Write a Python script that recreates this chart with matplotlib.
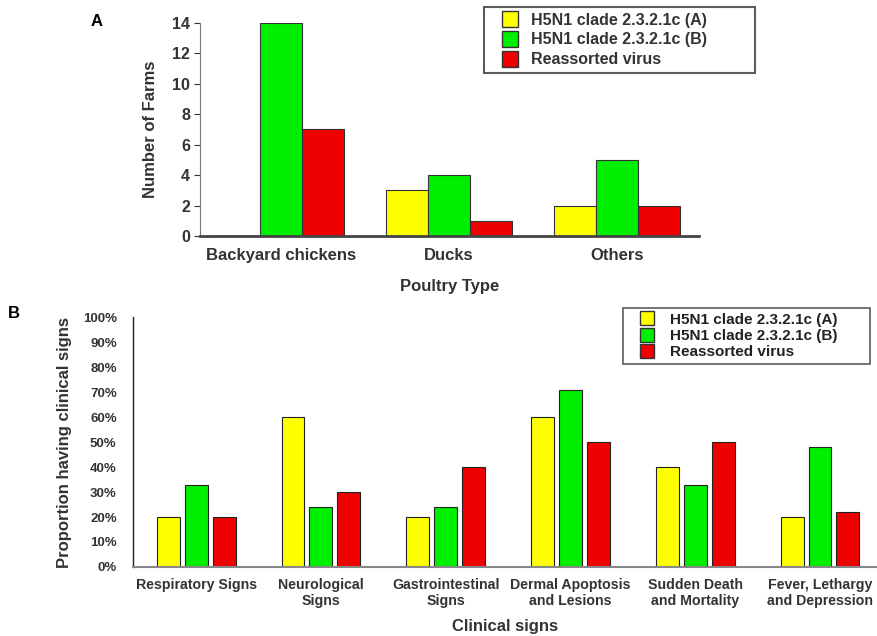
import matplotlib
matplotlib.use("Agg")
import matplotlib.pyplot as plt
from matplotlib.lines import Line2D
import numpy as np

plt.rcParams['font.family'] = ['Liberation Sans', 'DejaVu Sans']
plt.rcParams['font.weight'] = 'bold'

series = ["H5N1 clade 2.3.2.1c (A)", "H5N1 clade 2.3.2.1c (B)", "Reassorted virus"]
colors = ["#FFFF00", "#00EE00", "#EE0000"]

poultry = ["Backyard chickens", "Ducks", "Others"]
farms_A = [0, 3, 2]
farms_B = [14, 4, 5]
farms_R = [7, 1, 2]
yticks_A = [0, 2, 4, 6, 8, 10, 12, 14]

signs = ["Respiratory Signs", "Neurological\nSigns", "Gastrointestinal\nSigns",
         "Dermal Apoptosis\nand Lesions", "Sudden Death\nand Mortality", "Fever, Lethargy\nand Depression"]
prop_A = [20, 60, 20, 60, 40, 20]
prop_B = [33, 24, 24, 71, 33, 48]
prop_R = [20, 30, 40, 50, 50, 22]
yticks_B = [0, 10, 20, 30, 40, 50, 60, 70, 80, 90, 100]

W, H = 877, 636
fig = plt.figure(figsize=(W / 100, H / 100), dpi=100)


def handles(ms):
    return [Line2D([], [], linestyle='none', marker='s', markersize=ms, markerfacecolor=c,
                   markeredgecolor="#333333", markeredgewidth=1.0) for c in colors]


# Panel A
axA = fig.add_axes([0.228, 0.629, 0.569, 0.335])
x = np.arange(len(poultry))
w = 0.25
for i, (vals, c, lab) in enumerate(zip([farms_A, farms_B, farms_R], colors, series)):
    axA.bar(x + (i - 1) * w, vals, width=w, color=c, edgecolor="#333333", linewidth=0.8, label=lab)
axA.set_xlim(-0.48, 2.49)
axA.set_ylim(0, 14)
axA.set_yticks(yticks_A)
axA.set_xticks(x)
axA.set_xticklabels(poultry, fontsize=12, fontweight='bold', color="#333333")
axA.tick_params(axis='x', length=0, pad=9)
axA.tick_params(axis='y', length=4, width=0.8, labelsize=11.5, colors="#333333", pad=3)
for s in ['top', 'right']:
    axA.spines[s].set_visible(False)
axA.spines['left'].set_color("#777777")
axA.spines['left'].set_linewidth(0.8)
axA.spines['bottom'].set_color("#444444")
axA.spines['bottom'].set_linewidth(2.0)
axA.set_ylabel("Number of Farms", fontsize=12, fontweight='bold', color="#333333", labelpad=10)
axA.set_xlabel("Poultry Type", fontsize=12, fontweight='bold', color="#333333", labelpad=11)
legA = axA.legend(handles(11), series, loc='upper left', bbox_to_anchor=(484 / W, 1 - 74 / H, 271 / W, 67 / H),
                  bbox_transform=fig.transFigure, mode='expand',
                  fontsize=11.5, frameon=True, fancybox=False, edgecolor="#333333",
                  handlelength=2.6, borderpad=0.35, labelspacing=0.3,
                  handletextpad=0.0, borderaxespad=0)
legA.get_frame().set_linewidth(1.5)
for t in legA.get_texts():
    t.set_fontweight('bold')
    t.set_color("#333333")
fig.text(97 / W, 1 - 22 / H, "A", fontsize=12, fontweight='bold', ha='center', va='center')

# Panel B
axB = fig.add_axes([0.152, 0.1085, 0.847, 0.393])
xb = np.arange(len(signs))
wb = 0.184
step = 0.224
for i, (vals, c, lab) in enumerate(zip([prop_A, prop_B, prop_R], colors, series)):
    axB.bar(xb + (i - 1) * step, vals, width=wb, color=c, edgecolor="#222222", linewidth=0.8, label=lab)
axB.set_xlim(-0.504, 5.45)
axB.set_ylim(0, 100)
axB.set_yticks(yticks_B)
axB.set_yticklabels([f"{v}%" for v in yticks_B], fontsize=9.5, fontweight='bold', color="#333333")
axB.set_xticks(xb)
axB.set_xticklabels(signs, fontsize=10.2, fontweight='bold', color="#333333", linespacing=1.15)
axB.tick_params(axis='x', length=0, pad=8)
axB.tick_params(axis='y', length=0, pad=12)
for s in ['top', 'right']:
    axB.spines[s].set_visible(False)
axB.spines['left'].set_color("#222222")
axB.spines['left'].set_linewidth(1.0)
axB.spines['bottom'].set_color("#888888")
axB.spines['bottom'].set_linewidth(1.5)
axB.set_ylabel("Proportion having clinical signs", fontsize=12, fontweight='bold', color="#333333", labelpad=7.5)
axB.set_xlabel("Clinical signs", fontsize=12, fontweight='bold', color="#333333", labelpad=8)
legB = axB.legend(handles(9.5), series, loc='upper left', bbox_to_anchor=(623 / W, 1 - 369 / H, 247 / W, 61 / H),
                  bbox_transform=fig.transFigure, mode='expand',
                  fontsize=11, frameon=True, fancybox=False, edgecolor="#333333",
                  handlelength=2.5, borderpad=0.3, labelspacing=0.15,
                  handletextpad=0.3, borderaxespad=0)
legB.get_frame().set_linewidth(1.2)
for t in legB.get_texts():
    t.set_fontweight('bold')
    t.set_color("#222222")
fig.text(14 / W, 1 - 313 / H, "B", fontsize=12, fontweight='bold', ha='center', va='center')

fig.savefig("out.png", dpi=100)
